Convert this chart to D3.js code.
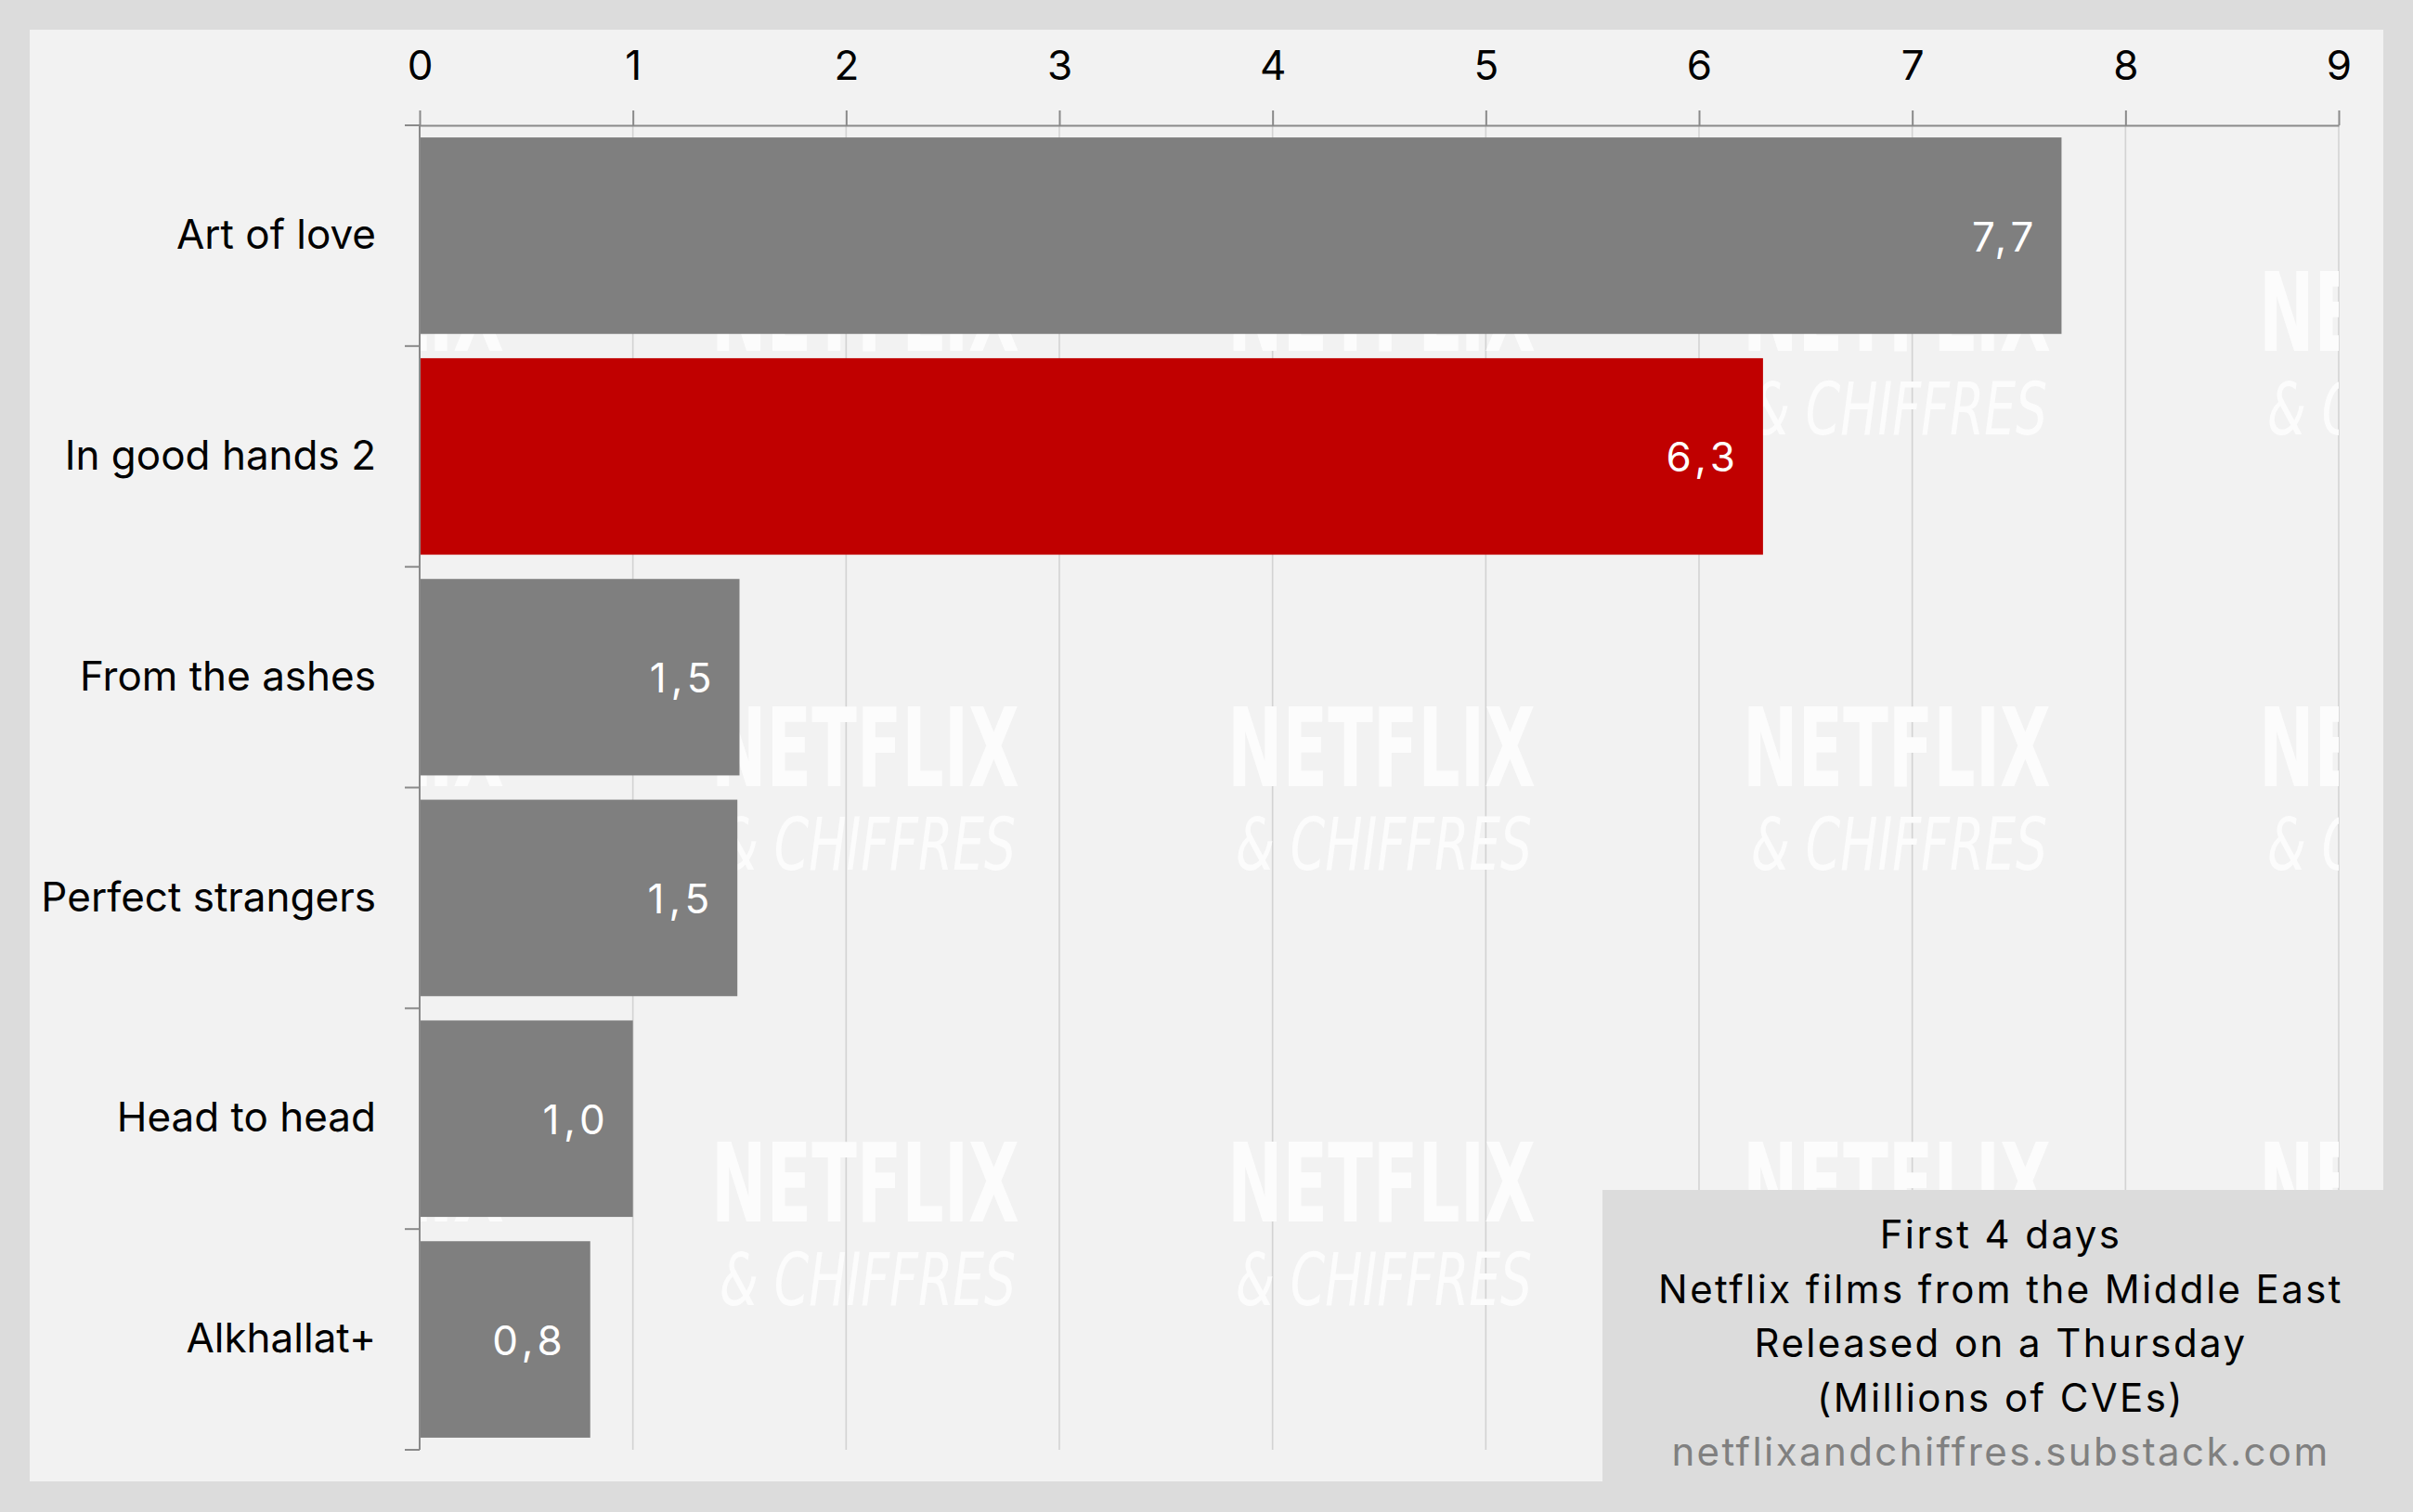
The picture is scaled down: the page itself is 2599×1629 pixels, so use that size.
<!DOCTYPE html>
<html>
<head>
<meta charset="utf-8">
<script src="https://cdn.jsdelivr.net/npm/d3@7/dist/d3.min.js"></script>
<style>
  html, body { margin: 0; padding: 0; background: #dcdcdc; }
  svg { display: block; }
  text { font-family: Inter, "Noto Sans", "DejaVu Sans", sans-serif; }
</style>
</head>
<body>
<svg id="chart" width="2599" height="1629"></svg>
<script>
// ---- data ----
const categories = ["Art of love", "In good hands 2", "From the ashes", "Perfect strangers", "Head to head", "Alkhallat+"];
const values = [7.7, 6.3, 1.5, 1.49, 1.0, 0.8];
const highlighted = ["In good hands 2"];
const xTicks = [0, 1, 2, 3, 4, 5, 6, 7, 8, 9];
const noteLines = ["First 4 days", "Netflix films from the Middle East", "Released on a Thursday", "(Millions of CVEs)"];
const sourceLine = "netflixandchiffres.substack.com";

// ---- layout ----
const W = 2599, H = 1629;
const svg = d3.select("#chart");
const frameColor = "#dcdcdc";
const bgColor = "#f2f2f2";

svg.append("rect").attr("x", 0).attr("y", 0).attr("width", W).attr("height", H).attr("fill", frameColor);
svg.append("rect").attr("x", 32).attr("y", 32).attr("width", 2535).attr("height", 1564).attr("fill", bgColor);

const plot = { left: 452, right: 2519, top: 135, bottom: 1562 };

const x = d3.scaleLinear().domain([0, 9]).range([plot.left, plot.right]);
const y = d3.scaleBand().domain(categories).range([plot.top, plot.bottom]).paddingInner(0.11).paddingOuter(0.055);

// gridlines
svg.append("g").selectAll("line").data(xTicks.filter(d => d > 0)).join("line")
  .attr("x1", d => x(d)).attr("x2", d => x(d))
  .attr("y1", plot.top).attr("y2", plot.bottom)
  .attr("stroke", "#d3d3d3").attr("stroke-width", 1.6);

// watermark (decorative), clipped to plot
svg.append("clipPath").attr("id", "plotClip").append("rect")
  .attr("x", plot.left).attr("y", plot.top)
  .attr("width", plot.right - plot.left).attr("height", plot.bottom - plot.top);
const wm = svg.append("g").attr("clip-path", "url(#plotClip)");
const wmCols = [377, 932, 1488, 2043, 2599];
const wmRows = [378, 847, 1316];
wmRows.forEach(r => {
  wmCols.forEach(c => {
    wm.append("text")
      .attr("x", c - 166).attr("y", r)
      .attr("textLength", 332).attr("lengthAdjust", "spacingAndGlyphs")
      .style("font-family", "'Liberation Sans Narrow', 'DejaVu Sans Condensed', sans-serif")
      .style("font-weight", "bold").style("font-size", "117px")
      .attr("fill", "#fcfcfc").text("NETFLIX");
    wm.append("text")
      .attr("x", c - 157).attr("y", r + 90)
      .attr("textLength", 319).attr("lengthAdjust", "spacingAndGlyphs")
      .style("font-family", "'Liberation Sans Narrow', 'DejaVu Sans Condensed', sans-serif")
      .style("font-style", "italic").style("font-size", "78px")
      .attr("fill", "#fcfcfc").text("& CHIFFRES");
  });
});

// bars
svg.append("g").selectAll("rect").data(categories).join("rect")
  .attr("x", x(0))
  .attr("y", d => y(d))
  .attr("width", (d, i) => x(values[i]) - x(0))
  .attr("height", y.bandwidth())
  .attr("fill", d => highlighted.includes(d) ? "#c00000" : "#7f7f7f");

// value labels
const fmt = v => d3.format(".1f")(v).replace(".", ",");
const valSpacing = 5;
svg.append("g").selectAll("text").data(categories).join("text")
  .attr("x", (d, i) => x(values[i]) - 30 + valSpacing)
  .attr("y", d => y(d) + y.bandwidth() / 2)
  .attr("dy", "0.38em")
  .attr("text-anchor", "end")
  .attr("fill", "#ffffff")
  .style("font-size", "44px")
  .style("letter-spacing", valSpacing + "px")
  .text((d, i) => fmt(values[i]));

// top axis
const axisColor = "#8a8a8a";
const xAxis = svg.append("g").attr("transform", `translate(0,${plot.top})`)
  .call(d3.axisTop(x).tickValues(xTicks).tickFormat(d3.format("d")).tickSize(16).tickSizeOuter(0).tickPadding(33));
xAxis.select(".domain").attr("stroke", axisColor).attr("stroke-width", 2);
xAxis.selectAll(".tick line").attr("stroke", axisColor).attr("stroke-width", 2);
xAxis.selectAll(".tick text").attr("fill", "#000").style("font-size", "44px").style("font-family", "Inter, 'Noto Sans', sans-serif");

// left axis (labels at band centres, ticks at band boundaries)
const yAxis = svg.append("g").attr("transform", `translate(${plot.left},0)`)
  .call(d3.axisLeft(y).tickSize(0).tickPadding(47));
yAxis.select(".domain").remove();
yAxis.selectAll(".tick text").attr("fill", "#000").style("font-size", "44px").style("font-family", "Inter, 'Noto Sans', sans-serif");
svg.append("line").attr("x1", plot.left).attr("x2", plot.left).attr("y1", plot.top).attr("y2", plot.bottom)
  .attr("stroke", axisColor).attr("stroke-width", 2);
const step = y.step();
const bounds = d3.range(categories.length + 1).map(i => plot.top + i * step);
svg.append("g").selectAll("line").data(bounds).join("line")
  .attr("x1", plot.left - 16).attr("x2", plot.left)
  .attr("y1", d => d).attr("y2", d => d)
  .attr("stroke", axisColor).attr("stroke-width", 2);

// note box
svg.append("rect").attr("x", 1726).attr("y", 1282).attr("width", W - 1726).attr("height", H - 1282).attr("fill", frameColor);
const noteX = 2155;
const noteSpacing = 2.4;
const baselines = [1345, 1404, 1462, 1521];
svg.append("g").selectAll("text").data(noteLines).join("text")
  .attr("x", noteX).attr("y", (d, i) => baselines[i])
  .attr("text-anchor", "middle").attr("fill", "#000")
  .style("font-size", "42px").style("letter-spacing", noteSpacing + "px").text(d => d);
svg.append("text").attr("x", noteX).attr("y", 1579)
  .attr("text-anchor", "middle").attr("fill", "#808080")
  .style("font-size", "42px").style("letter-spacing", noteSpacing + "px").text(sourceLine);
</script>
</body>
</html>
